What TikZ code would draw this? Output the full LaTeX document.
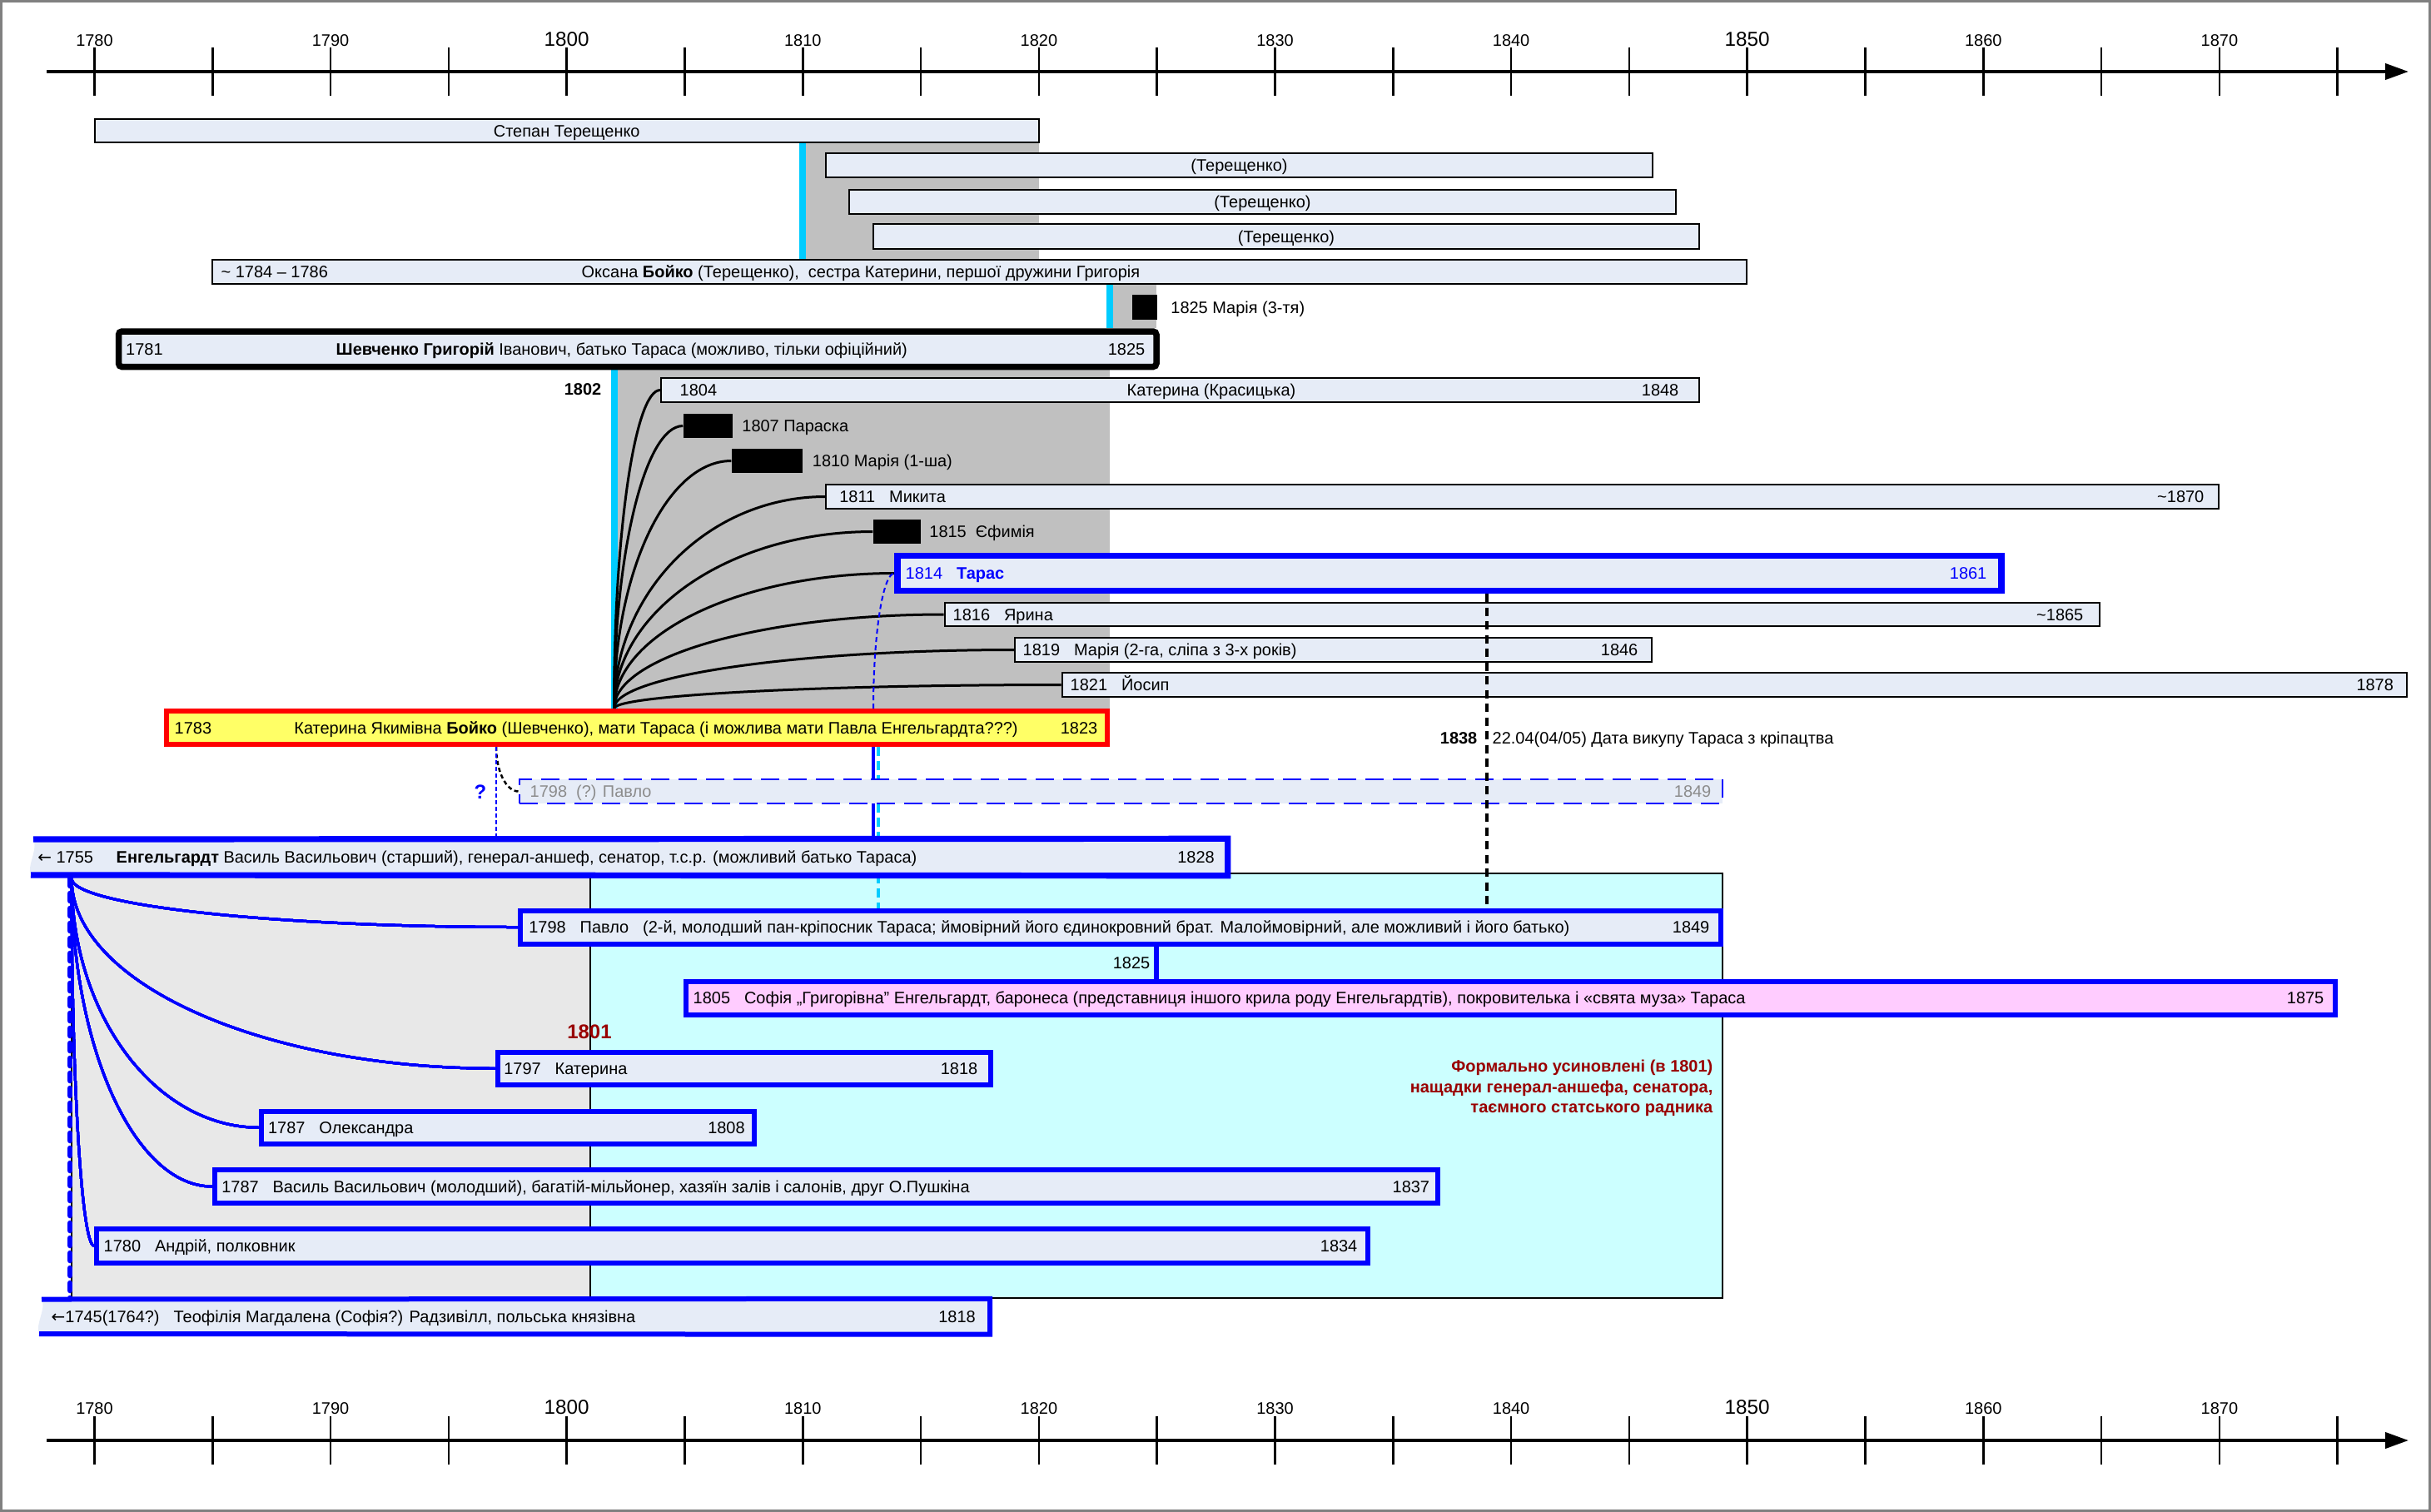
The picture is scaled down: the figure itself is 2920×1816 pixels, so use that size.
\documentclass[tikz,border=0pt]{standalone}
\usepackage{fontspec}
\setmainfont{Liberation Sans}
\newfontfamily\arrowfont{DejaVu Sans}
\usetikzlibrary{arrows.meta, positioning, calc, fit}
\definecolor{cbar}{HTML}{E6ECF7}
\definecolor{cblue}{HTML}{0000FF}
\definecolor{ccyan}{HTML}{00CCFF}
\definecolor{cgreyzone}{HTML}{C0C0C0}
\definecolor{clightzone}{HTML}{E8E8E8}
\definecolor{cadopt}{HTML}{CCFFFF}
\definecolor{cyell}{HTML}{FFFF66}
\definecolor{cpink}{HTML}{FFCCFF}
\definecolor{cdred}{HTML}{990000}
\definecolor{cframe}{HTML}{808080}
\pgfdeclarelayer{zones}
\pgfdeclarelayer{links}
\pgfsetlayers{zones,links,main}
\newcommand\gap{\hspace{0.85em}}
\newcommand\back{{\arrowfont ←}}
\newcommand\kidlink[3][]{\draw[#1] (#2) .. controls ($(#2)!0.55!(#2 |- #3)$) and ($(#3)!0.55!(#2 |- #3)$) .. (#3);}
\tikzset{
  every picture/.style={font=\fontsize{5.68pt}{6.8pt}\selectfont},
  lbl/.style={inner sep=0pt, text height=1.8mm, text depth=0.4mm},
  lt/.style={lbl, anchor=west},
  rt/.style={lbl, anchor=east},
  bar/.style={draw=black, line width=0.2mm, fill=cbar, inner sep=0pt},
  fambar/.style={bar, draw=cblue, line width=0.6mm},
  gone/.style={fill=black, inner sep=0pt},
  wed/.style={draw=ccyan, line width=0.8mm},
  kid/.style={line width=0.3mm},
  engkid/.style={draw=cblue, line width=0.3mm},
  tick/.style={line width=0.25mm},
  timeaxis/.style={line width=0.4mm, -{Triangle[length=2.8mm, width=1.9mm]}},
  yearbig/.style={font=\fontsize{6.9pt}{8pt}\selectfont},
  bignote/.style={inner sep=0pt, font=\fontsize{6.8pt}{8pt}\selectfont\bfseries},
}

\begin{document}
\begin{tikzpicture}[x=0.1mm, y=-0.1mm]
  \useasboundingbox (0,0) rectangle (2920,1816);
  \draw[cframe, line width=0.3mm] (1.5,1.5) rectangle (2918.5,1814.5);

  \foreach \ya/\yt in {86/55, 1730/1698} {
    \draw[timeaxis] (56,\ya) -- (2893,\ya);
    \foreach \i in {0,...,19} \draw[tick] ({113.5+\i*141.8},\ya-29) -- ++(0,58);
    \foreach \yr in {1780,1790,1810,1820,1830,1840,1860,1870}
      \node[inner sep=0pt, anchor=base] (ax\ya-\yr) at ({113.5+(\yr-1780)*28.36},\yt) {\yr};
    \foreach \yr in {1800,1850}
      \node[yearbig, inner sep=0pt, anchor=base] (ax\ya-\yr) at ({113.5+(\yr-1780)*28.36},\yt) {\yr};
  }

  \coordinate (m1798) at (596,0);
  \coordinate (m1802) at (737.5,0);
  \coordinate (m1810) at (964,0);
  \coordinate (m1813) at (1049,0);
  \coordinate (m1813b) at (1055,0);
  \coordinate (m1823) at (1333,0);
  \coordinate (m1825) at (1388.6,0);
  \coordinate (m1838) at (1786,0);

  \begin{pgfonlayer}{zones}
    \fill[cgreyzone] (968,171) rectangle (1248,312);
    \fill[cgreyzone] (1337,341) rectangle (1389,394);
    \fill[cgreyzone] (742,440) rectangle (1333,852);
    \filldraw[fill=clightzone, draw=black, line width=0.2mm] (86,1049) rectangle (709,1559);
    \filldraw[fill=cadopt, draw=black, line width=0.2mm] (709,1049) rectangle (2069,1559);
  \end{pgfonlayer}

  \node[bar, fit={(113.5,143) (1248,171)}] (stepan) {};
  \node[lbl] (stepan-t) at (stepan.center) {Степан Терещенко};
  \node[bar, fit={(992,184) (1985,213)}] (ter1) {};
  \node[lbl] (ter1-t) at (ter1.center) {(Терещенко)};
  \node[bar, fit={(1020,228) (2013,257)}] (ter2) {};
  \node[lbl] (ter2-t) at (ter2.center) {(Терещенко)};
  \node[bar, fit={(1049,269) (2041,299)}] (ter3) {};
  \node[lbl] (ter3-t) at (ter3.center) {(Терещенко)};
  \node[bar, fit={(255,312) (2098,341)}] (oksana) {};
  \node[lt] (oksana-a) at (265,326.5) {\textasciitilde\ 1784 – 1786};
  \node[lt] (oksana-t) at (698,326.5) {Оксана \textbf{Бойко} (Терещенко),\ \ сестра Катерини, першої дружини Григорія};
  \node[gone, fit={(1360,354) (1390,384)}] (m3) {};
  \node[lbl, right=1.5mm of m3] (m3-t) {1825 Марія (3-тя)};

  \node[bar, line width=0.75mm, rounded corners=0.4mm, fit={(142.5,398) (1389,440.5)}] (hryh) {};
  \node[lt] (hryh-a) at (150.5,419) {1781};
  \node[lt] (hryh-t) at (403,419) {\textbf{Шевченко Григорій} Іванович, батько Тараса (можливо, тільки офіційний)};
  \node[rt] (hryh-b) at (1376,419) {1825};
  \node[rt] (y1802) at (723,467.5) {\textbf{1802}};

  \node[bar, fit={(794,454) (2041,483)}] (k1804) {};
  \node[lt] (k1804-a) at (816,468.5) {1804};
  \node[lbl] (k1804-t) at (1455,468.5) {Катерина (Красицька)};
  \node[rt] (k1804-b) at (2017,468.5) {1848};
  \node[gone, fit={(821,497) (880,526)}] (k1807) {};
  \node[lbl, right=1mm of k1807] (k1807-t) {1807 Параска};
  \node[gone, fit={(879,539) (964,568)}] (k1810) {};
  \node[lbl, right=1.05mm of k1810] (k1810-t) {1810 Марія (1-ша)};
  \node[bar, fit={(992,582) (2665,611)}] (k1811) {};
  \node[lt] (k1811-a) at (1007.6,596.5) {1811\gap Микита};
  \node[rt] (k1811-b) at (2648,596.5) {\textasciitilde1870};
  \node[gone, fit={(1049,624) (1106,653)}] (k1815) {};
  \node[lbl, right=0.9mm of k1815] (k1815-t) {1815\ \ Єфимія};
  \node[fambar, line width=0.72mm, fit={(1078,667.5) (2404,709.5)}] (taras) {};
  \node[lt, text=cblue] (taras-a) at (1087,688.5) {1814\gap\textbf{Тарас}};
  \node[rt, text=cblue] (taras-b) at (2387,688.5) {1861};
  \node[bar, fit={(1134.5,724) (2522,752)}] (k1816) {};
  \node[lt] (k1816-a) at (1144,738) {1816\gap Ярина};
  \node[rt] (k1816-b) at (2503,738) {\textasciitilde1865};
  \node[bar, fit={(1219,766) (1984,795)}] (k1819) {};
  \node[lt] (k1819-a) at (1228,780.5) {1819\gap Марія (2-га, сліпа з 3-х років)};
  \node[rt] (k1819-b) at (1968,780.5) {1846};
  \node[bar, fit={(1275.5,808) (2891,837)}] (k1821) {};
  \node[lt] (k1821-a) at (1285,822.5) {1821\gap Йосип};
  \node[rt] (k1821-b) at (2875.6,822.5) {1878};

  \node[bar, draw=red, fill=cyell, line width=0.6mm, fit={(200,854) (1330,894)}] (kat) {};
  \node[lt] (kat-a) at (209,874) {1783};
  \node[lt] (kat-t) at (352.7,874) {Катерина Якимівна \textbf{Бойко} (Шевченко), мати Тараса (і можлива мати Павла Енгельгардта???)};
  \node[rt] (kat-b) at (1319,874) {1823};
  \coordinate (katroot) at (kat.north -| m1802);

  \node[rt] (y1838) at (1775,886) {\textbf{1838}};
  \node[lt] (buyout) at (1792,886) {22.04(04/05) Дата викупу Тараса з кріпацтва};

  \node[bar, draw=cblue, line width=0.25mm, dash pattern=on 2.2mm off 1.1mm, fit={(624,936) (2069,965)}] (pavq) {};
  \node[lt, text=black!45] (pavq-a) at (636,950.5) {1798\ \ (?) Павло};
  \node[rt, text=black!45] (pavq-b) at (2056,950.5) {1849};
  \node[bignote, text=cblue] (qmark) at (577,951) {?};

  \node[inner sep=0pt, fit={(37,1008) (1474,1051)}] (engel) {};
  \fill[cbar] (40,1008) .. controls (46,1020) and (32,1040) .. (37,1051) -- (engel.south east) -- (engel.north east) -- cycle;
  \draw[cblue, line width=0.72mm] (40,1008) -- (engel.north east) -- (engel.south east) -- (37,1051);
  \node[lt] (engel-a) at (44.6,1029.5) {\back\ 1755};
  \node[lt] (engel-t) at (139,1029.5) {\textbf{Енгельгардт} Василь Васильович (старший), генерал-аншеф, сенатор, т.с.р. (можливий батько Тараса)};
  \node[rt] (engel-b) at (1459.5,1029.5) {1828};
  \coordinate (engroot) at (86,1055);

  \node[bignote, text=cdred, anchor=base] (y1801) at (708,1247) {1801};
  \node[rt, text=cdred] (note1) at (2058,1280) {\textbf{Формально усиновлені (в 1801)}};
  \node[rt, text=cdred] (note2) at (2058,1305) {\textbf{нащадки генерал-аншефа, сенатора,}};
  \node[rt, text=cdred] (note3) at (2058,1329) {\textbf{таємного статського радника}};

  \node[fambar, fit={(625,1093.5) (2067,1133.5)}] (pavlo) {};
  \node[lt] (pavlo-a) at (634.6,1113.5) {1798\gap Павло\gap(2-й, молодший пан-кріпосник Тараса; ймовірний його єдинокровний брат. Малоймовірний, але можливий і його батько)};
  \node[rt] (pavlo-b) at (2054,1113.5) {1849};
  \node[rt] (y1825) at (1382,1156.5) {1825};
  \node[fambar, fill=cpink, fit={(824,1178.5) (2805,1218.5)}] (sofia) {};
  \node[lt] (sofia-a) at (832,1198.5) {1805\gap Софія „Григорівна” Енгельгардт, баронеса (представниця іншого крила роду Енгельгардтів), покровителька і «свята муза» Тараса};
  \node[rt] (sofia-b) at (2792,1198.5) {1875};
  \node[fambar, fit={(597.5,1263.5) (1189.5,1303)}] (katya) {};
  \node[lt] (katya-a) at (604.6,1283.3) {1797\gap Катерина};
  \node[rt] (katya-b) at (1175,1283.3) {1818};
  \node[fambar, fit={(314,1334.5) (906,1374)}] (olek) {};
  \node[lt] (olek-a) at (321.4,1354.3) {1787\gap Олександра};
  \node[rt] (olek-b) at (895.4,1354.3) {1808};
  \node[fambar, fit={(257.5,1405) (1727,1445)}] (vasyl) {};
  \node[lt] (vasyl-a) at (265.6,1425) {1787\gap Василь Васильович (молодший), багатій-мільйонер, хазяїн залів і салонів, друг О.Пушкіна};
  \node[rt] (vasyl-b) at (1717.8,1425) {1837};
  \node[fambar, fit={(116,1476) (1643,1516.5)}] (andriy) {};
  \node[lt] (andriy-a) at (124,1496.3) {1780\gap Андрій, полковник};
  \node[rt] (andriy-b) at (1631,1496.3) {1834};

  \node[inner sep=0pt, fit={(47,1560.5) (1188.5,1602)}] (teof) {};
  \fill[cbar] (50,1560.5) .. controls (56,1572) and (42,1590) .. (47,1602) -- (teof.south east) -- (teof.north east) -- cycle;
  \draw[cblue, line width=0.6mm] (50,1560.5) -- (teof.north east) -- (teof.south east) -- (47,1602);
  \node[lt] (teof-a) at (61,1581) {\back1745(1764?)\gap Теофілія Магдалена (Софія?) Радзивілл, польська князівна};
  \node[rt] (teof-b) at (1172.5,1581) {1818};

  \begin{pgfonlayer}{links}
    \draw[wed] (stepan.south -| m1810) -- (oksana.north -| m1810);
    \draw[wed] (oksana.south -| m1823) -- (hryh.north -| m1823);
    \draw[wed] (hryh.south -| m1802) -- (katroot);
    \foreach \c in {k1804,k1807,k1810,k1811,k1815,taras,k1816,k1819,k1821}
      \kidlink[kid]{katroot}{\c.west}
    \foreach \c in {pavlo,katya,olek,vasyl,andriy}
      \kidlink[engkid]{engroot}{\c.west}
    \coordinate (tarasdrop) at (kat.north -| m1813);
    \kidlink[cblue, line width=0.2mm, dash pattern=on 0.6mm off 0.4mm]{tarasdrop}{taras.west}
    \coordinate (pavqdrop) at (kat.south -| m1798);
    \kidlink[line width=0.25mm, dash pattern=on 0.5mm off 0.35mm]{pavqdrop}{pavq.west}
    \draw[cblue, line width=0.25mm, dash pattern=on 0.5mm off 0.3mm] (pavqdrop) -- (engel.north -| m1798);
    \draw[cblue, line width=0.45mm] (kat.south -| m1813) -- (engel.north -| m1813);
    \draw[ccyan, line width=0.4mm, dash pattern=on 1.1mm off 0.6mm] (kat.south -| m1813b) -- (pavlo.north -| m1813b);
    \draw[cblue, line width=0.6mm] (pavlo.south -| m1825) -- (sofia.north -| m1825);
  \end{pgfonlayer}
  \draw[cblue, line width=0.65mm, line cap=round, dash pattern=on 0.9mm off 0.9mm] ([xshift=-0.2mm]engroot) -- ([xshift=-0.2mm]teof.north -| engroot);
  \draw[line width=0.45mm, dash pattern=on 1mm off 0.65mm] (taras.south -| m1838) -- (pavlo.north -| m1838);
\end{tikzpicture}
\end{document}
